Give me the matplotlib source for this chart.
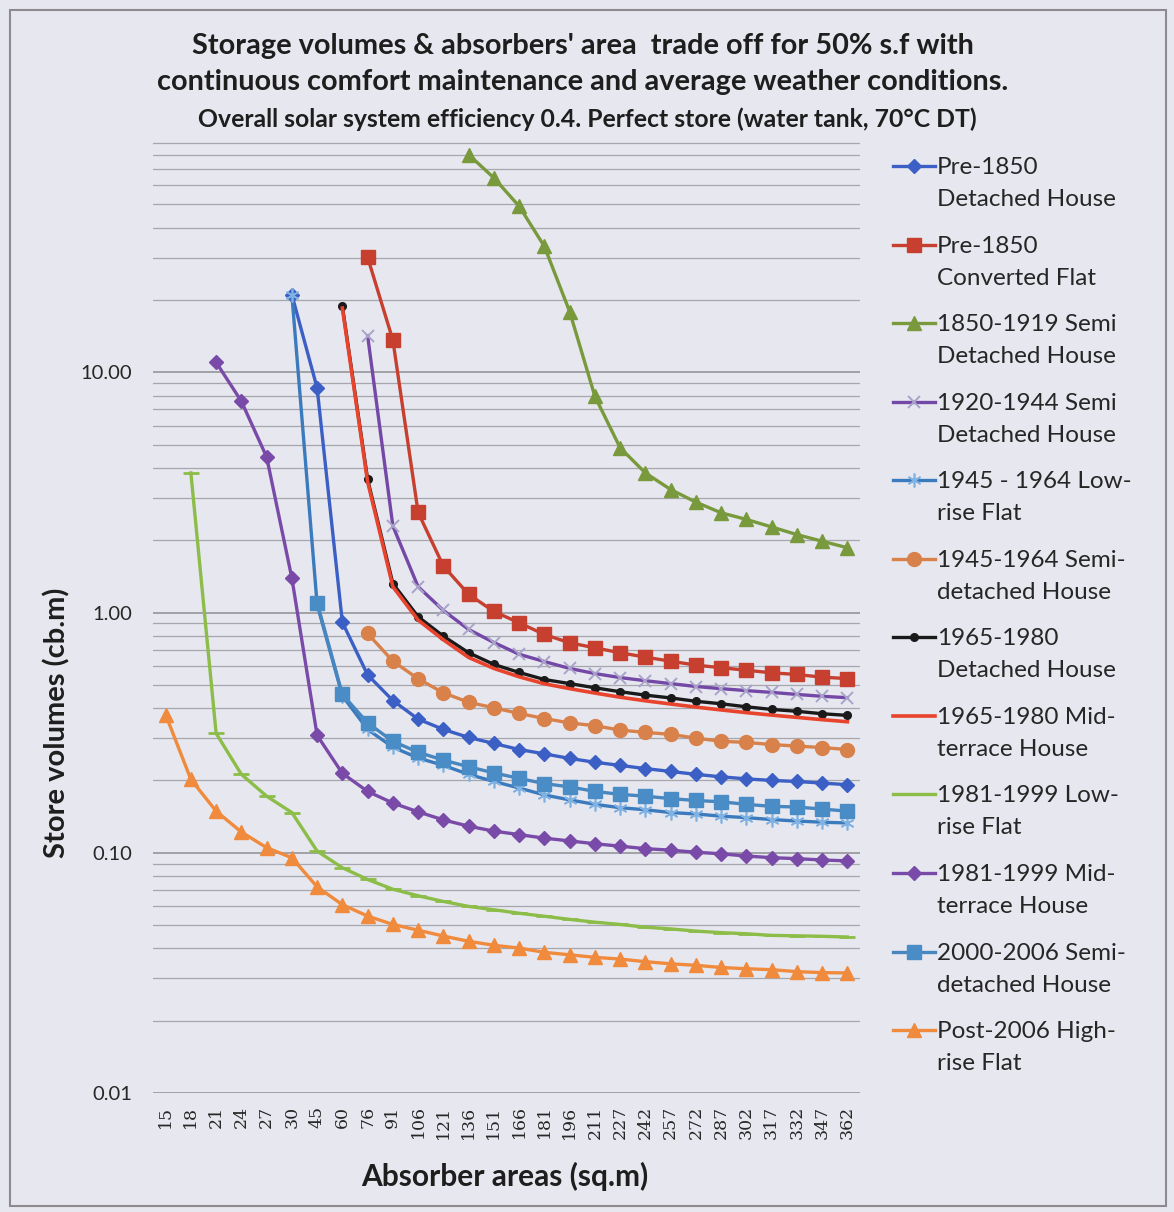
import numpy as np
import matplotlib
matplotlib.use("Agg")
import matplotlib.pyplot as plt
from matplotlib.lines import Line2D
from matplotlib.patches import Rectangle
from matplotlib.ticker import FixedLocator, LogLocator, NullFormatter

nan = np.nan

# Absorber areas (category axis)
areas = [15, 18, 21, 24, 27, 30, 45, 60, 76, 91, 106, 121, 136, 151, 166, 181,
         196, 211, 227, 242, 257, 272, 287, 302, 317, 332, 347, 362]

# Store volumes (cb.m) per dwelling type
pre1850_detached = [nan, nan, nan, nan, nan, 21.0, 8.6, 0.91, 0.55, 0.43, 0.36, 0.326,
                    0.302, 0.285, 0.269, 0.258, 0.247, 0.238, 0.231, 0.224, 0.218,
                    0.212, 0.207, 0.203, 0.200, 0.198, 0.195, 0.192]
pre1850_flat = [nan] * 8 + [30.1, 13.6, 2.61, 1.56, 1.19, 1.01, 0.906, 0.81, 0.748, 0.713,
                            0.68, 0.652, 0.627, 0.604, 0.589, 0.575, 0.561, 0.552, 0.538, 0.531]
semi_1850_1919 = [nan] * 12 + [80.5, 64.4, 49.1, 33.4, 17.9, 7.94, 4.85, 3.81, 3.25, 2.88,
                               2.60, 2.44, 2.27, 2.11, 1.98, 1.86]
semi_1920_1944 = [nan] * 8 + [14.2, 2.29, 1.28, 1.02, 0.85, 0.75, 0.67, 0.625, 0.585, 0.557,
                              0.536, 0.52, 0.506, 0.492, 0.482, 0.473, 0.465, 0.456, 0.448, 0.442]
lowrise_1945_1964 = [nan] * 5 + [21.0, 1.08, 0.45, 0.326, 0.275, 0.248, 0.231, 0.212, 0.198,
                                 0.186, 0.174, 0.166, 0.159, 0.154, 0.151, 0.147, 0.145, 0.142,
                                 0.140, 0.1375, 0.1355, 0.134, 0.133]
semi_1945_1964 = [nan] * 8 + [0.818, 0.627, 0.53, 0.463, 0.423, 0.401, 0.38, 0.362, 0.347,
                              0.338, 0.324, 0.317, 0.311, 0.30, 0.291, 0.288, 0.282, 0.278,
                              0.274, 0.269]
detached_1965_1980 = [nan] * 7 + [18.8, 3.58, 1.32, 0.96, 0.797, 0.68, 0.608, 0.563, 0.526,
                                  0.506, 0.486, 0.468, 0.453, 0.441, 0.427, 0.417, 0.405, 0.395,
                                  0.388, 0.379, 0.373]
midterrace_1965_1980 = [nan] * 7 + [18.5, 3.5, 1.28, 0.93, 0.77, 0.65, 0.585, 0.54, 0.505,
                                    0.482, 0.462, 0.444, 0.429, 0.416, 0.404, 0.393, 0.383,
                                    0.374, 0.366, 0.358, 0.351]
lowrise_1981_1999 = [nan, 3.81, 0.314, 0.212, 0.172, 0.147, 0.1016, 0.0866, 0.0774, 0.0705,
                     0.0662, 0.0627, 0.0598, 0.0579, 0.056, 0.0544, 0.0528, 0.0514, 0.0503,
                     0.049, 0.0482, 0.0472, 0.0465, 0.046, 0.0453, 0.0451, 0.0449, 0.0446]
midterrace_1981_1999 = [nan, nan, 11.0, 7.57, 4.44, 1.39, 0.308, 0.214, 0.18, 0.161, 0.148,
                        0.137, 0.129, 0.123, 0.119, 0.115, 0.112, 0.109, 0.1065, 0.104,
                        0.1025, 0.1005, 0.099, 0.0969, 0.0954, 0.0945, 0.0933, 0.0925]
semi_2000_2006 = [nan] * 6 + [1.10, 0.456, 0.347, 0.291, 0.262, 0.243, 0.228, 0.215, 0.204,
                              0.194, 0.188, 0.18, 0.175, 0.172, 0.168, 0.165, 0.163, 0.159,
                              0.156, 0.155, 0.152, 0.149]
highrise_post2006 = [0.376, 0.202, 0.149, 0.122, 0.105, 0.0953, 0.0721, 0.0608, 0.0545, 0.0503,
                     0.0476, 0.045, 0.0428, 0.0412, 0.0401, 0.0385, 0.0376, 0.0367, 0.0361,
                     0.0352, 0.0345, 0.034, 0.0333, 0.0329, 0.0326, 0.032, 0.0317, 0.0316]

series_labels = [
    "Pre-1850\nDetached House",
    "Pre-1850\nConverted Flat",
    "1850-1919 Semi\nDetached House",
    "1920-1944 Semi\nDetached House",
    "1945 - 1964 Low-\nrise Flat",
    "1945-1964 Semi-\ndetached House",
    "1965-1980\nDetached House",
    "1965-1980 Mid-\nterrace House",
    "1981-1999 Low-\nrise Flat",
    "1981-1999 Mid-\nterrace House",
    "2000-2006 Semi-\ndetached House",
    "Post-2006 High-\nrise Flat",
]
series_values = [pre1850_detached, pre1850_flat, semi_1850_1919, semi_1920_1944,
                 lowrise_1945_1964, semi_1945_1964, detached_1965_1980, midterrace_1965_1980,
                 lowrise_1981_1999, midterrace_1981_1999, semi_2000_2006, highrise_post2006]

asterisk = (6, 2, 0)
styles = [
    dict(color="#3b5fc4", marker="D", ms=7.5, mfc="#3b5fc4", mec="#3b5fc4", lw=2.4),
    dict(color="#c63f2f", marker="s", ms=10, mfc="#c63f2f", mec="#c63f2f", lw=2.4),
    dict(color="#789a3c", marker="^", ms=9.5, mfc="#789a3c", mec="#789a3c", lw=2.4),
    dict(color="#7448a6", marker="x", ms=9, mfc="none", mec="#a9a2c9", mew=1.4, lw=2.4),
    dict(color="#3b7bbd", marker=asterisk, ms=10, mfc="none", mec="#7fb2e2", mew=1.2, lw=2.4),
    dict(color="#d8814a", marker="o", ms=10, mfc="#d8814a", mec="#d8814a", lw=2.4),
    dict(color="#1a1a1a", marker="o", ms=5.5, mfc="#1a1a1a", mec="#1a1a1a", lw=2.4),
    dict(color="#e8432c", marker="None", lw=2.6),
    dict(color="#8cbd48", marker="_", ms=11, mec="#8cbd48", mew=2.0, lw=2.4),
    dict(color="#7a4aa8", marker="D", ms=7.5, mfc="#7a4aa8", mec="#7a4aa8", lw=2.4),
    dict(color="#4886c0", marker="s", ms=10, mfc="#4a8cc6", mec="#4a8cc6", lw=2.4),
    dict(color="#f08a3c", marker="^", ms=9.5, mfc="#f08a3c", mec="#f08a3c", lw=2.4),
]

W, H = 1174, 1212
bg = "#e7e7ef"
font = "Lato"
text_color = "#1e1e1e"

fig = plt.figure(figsize=(W / 100, H / 100), dpi=100)
fig.patch.set_facecolor(bg)

# Chart frame
fig.add_artist(Rectangle((10 / W, 1 - 1206 / H), 1156 / W, 1196 / H,
                         transform=fig.transFigure, fill=False,
                         edgecolor="#8d8a90", lw=1.5))

ax = fig.add_axes([153 / W, 1 - 1093 / H, 707 / W, (1093 - 132) / H])
ax.set_facecolor(bg)
ax.set_yscale("log")
ax.set_ylim(0.01, 100)
ax.set_xlim(-0.5, len(areas) - 0.5)

x = np.arange(len(areas))
for vals, st in zip(series_values, styles):
    ax.plot(x, np.array(vals, dtype=float), solid_joinstyle="round", **st)

# Axes styling
for sp in ax.spines.values():
    sp.set_visible(False)
ax.yaxis.set_major_locator(FixedLocator([0.01, 0.1, 1, 10]))
ax.yaxis.set_minor_locator(LogLocator(base=10, subs=np.arange(2, 10)))
ax.yaxis.set_minor_formatter(NullFormatter())
ax.set_yticklabels(["0.01", "0.10", "1.00", "10.00"])
ax.tick_params(axis="y", which="both", length=0, pad=15, labelsize=14.5,
               labelcolor="#262626", labelfontfamily=font)
ax.grid(which="major", axis="y", color="#8e8e94", lw=1.1)
ax.grid(which="minor", axis="y", color="#a6a6ad", lw=0.9)
ax.set_axisbelow(True)

ax.set_xticks(x)
ax.set_xticklabels([str(a) for a in areas], rotation=90)
ax.tick_params(axis="x", length=0, pad=9, labelsize=12.5, labelcolor="#262626",
               labelfontfamily="DejaVu Serif")

# Titles
fig.text(583 / W, 1 - 54 / H,
         "Storage volumes & absorbers' area  trade off for 50% s.f with",
         ha="center", va="baseline", fontsize=20.8, fontweight="bold", fontfamily=font,
         color=text_color)
fig.text(583 / W, 1 - 90 / H,
         "continuous comfort maintenance and average weather conditions.",
         ha="center", va="baseline", fontsize=20.8, fontweight="bold", fontfamily=font,
         color=text_color)
fig.text(587 / W, 1 - 127 / H,
         "Overall solar system efficiency 0.4. Perfect store (water tank, 70\u00b0C DT)",
         ha="center", va="baseline", fontsize=17.8, fontweight="bold", fontfamily=font,
         color=text_color)

fig.text(505 / W, 1 - 1186 / H, "Absorber areas (sq.m)", ha="center", va="baseline",
         fontsize=21.5, fontweight="bold", fontfamily=font, color=text_color)
fig.text(57 / W, 1 - 723 / H, "Store volumes (cb.m)", ha="center", va="center",
         rotation=90, fontsize=21, fontweight="bold", fontfamily=font, color=text_color)

# Legend, one two-line entry per series
y_first, step, line_gap = 166, 78.55, 32
for k, (label, st) in enumerate(zip(series_labels, styles)):
    yc = y_first + k * step
    yf = 1 - yc / H
    handle = Line2D([893 / W, 914 / W, 935 / W], [yf, yf, yf], transform=fig.transFigure,
                    markevery=[1], **st)
    fig.add_artist(handle)
    first, second = label.split("\n")
    fig.text(937 / W, 1 - (yc + 8) / H, first, ha="left", va="baseline", fontsize=17.5,
             fontfamily=font, color="#262626")
    fig.text(937 / W, 1 - (yc + 8 + line_gap) / H, second, ha="left", va="baseline",
             fontsize=17.5, fontfamily=font, color="#262626")

fig.savefig("out.png", dpi=100, facecolor=bg)
